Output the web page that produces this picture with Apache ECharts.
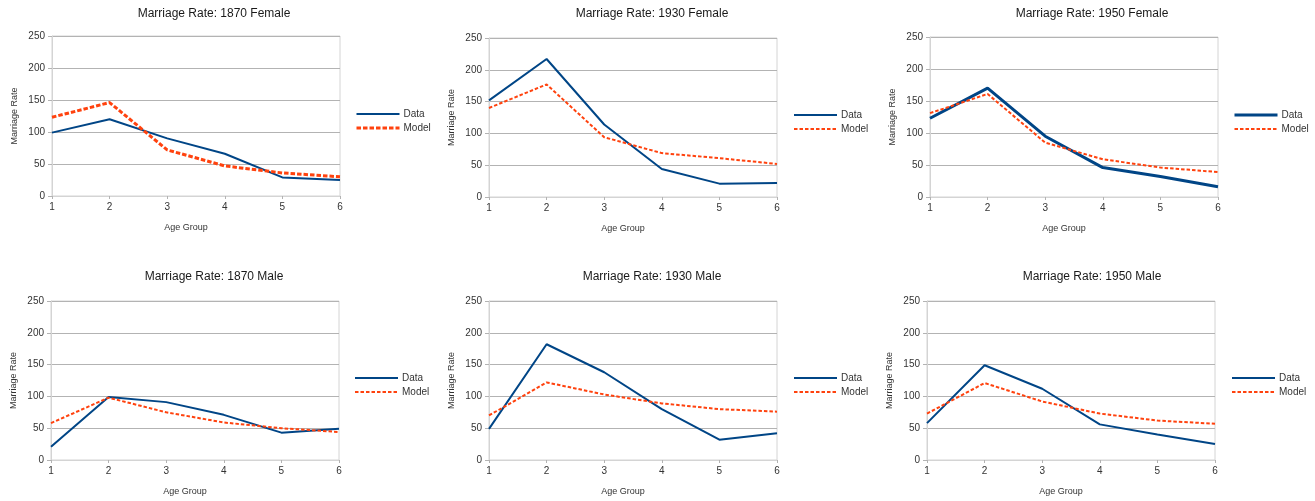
<!DOCTYPE html>
<html>
<head>
<meta charset="utf-8">
<script src="https://cdn.jsdelivr.net/npm/echarts@6/dist/echarts.min.js"></script>
<style>html,body{margin:0;padding:0;background:#fff}#c{width:1315px;height:501px}</style>
</head>
<body>
<div id="c"></div>
<script>
const ageGroups = ['1','2','3','4','5','6'];
const yTicks = [0, 50, 100, 150, 200, 250];
const panelTitles = ['Marriage Rate: 1870 Female','Marriage Rate: 1930 Female','Marriage Rate: 1950 Female',
                     'Marriage Rate: 1870 Male','Marriage Rate: 1930 Male','Marriage Rate: 1950 Male'];
const data1870F  = [99, 120, 90, 66, 29, 25];
const model1870F = [123, 146, 72, 47, 36, 30];
const data1930F  = [152, 217, 114, 44, 21, 22];
const model1930F = [140, 177, 94, 69, 61, 52];
const data1950F  = [123, 170, 95, 46, 32, 16];
const model1950F = [131, 161, 85, 59, 46, 39];
const data1870M  = [21, 99, 91, 71, 43, 49];
const model1870M = [58, 98, 75, 59, 50, 44];
const data1930M  = [49, 182, 138, 80, 32, 42];
const model1930M = [70, 122, 103, 89, 80, 76];
const data1950M  = [58, 149, 112, 56, 40, 25];
const model1950M = [73, 121, 92, 73, 62, 57];

const dataSets = [data1870F, data1930F, data1950F, data1870M, data1930M, data1950M];
const modelSets = [model1870F, model1930F, model1950F, model1870M, model1930M, model1950M];

const FONT = '"Liberation Sans", Arial, sans-serif';
const BLUE = '#004586', ORANGE = '#ff420e';
const grids = [
  {left: 52, top: 36, width: 288, height: 160},
  {left: 489, top: 38, width: 288, height: 159},
  {left: 930, top: 37, width: 288, height: 160},
  {left: 51, top: 301, width: 288, height: 159},
  {left: 489, top: 301, width: 288, height: 159},
  {left: 927, top: 301, width: 288, height: 159}
];
const titleCenters = [[214, 8], [652, 8], [1092, 8], [214, 271], [652, 271], [1092, 271]];
const legendPos = [[355, 109], [793, 110], [1233, 110], [354, 373], [793, 373], [1231, 373]];
const dataWidth = [2, 2, 3, 2, 2, 2];
const modelStyle = [
  {width: 3, type: [4.5, 2]},
  {width: 2, type: [3.5, 2]},
  {width: 2, type: [3.5, 2]},
  {width: 2, type: [3.5, 2]},
  {width: 2, type: [3.5, 2]},
  {width: 2, type: [3.5, 2]}
];

const option = {
  animation: false,
  backgroundColor: '#fff',
  title: [], legend: [], grid: [], xAxis: [], yAxis: [], series: []
};

grids.forEach((g, i) => {
  option.title.push({
    text: panelTitles[i], left: titleCenters[i][0], top: titleCenters[i][1], textAlign: 'center', padding: 0,
    textStyle: {fontFamily: FONT, fontSize: 12, fontWeight: 'normal', color: '#1a1a1a'}
  });
  option.grid.push(Object.assign({show: true, borderColor: '#d4d4d4', borderWidth: 1, backgroundColor: 'transparent'}, g));
  option.xAxis.push({
    type: 'category', gridIndex: i, data: ageGroups, boundaryGap: false,
    name: 'Age Group', nameLocation: 'middle', nameGap: 27,
    nameTextStyle: {fontFamily: FONT, fontSize: 9, color: '#333', padding: [0, 20, 0, 0]},
    axisLine: {lineStyle: {color: '#d4d4d4', width: 1}},
    axisTick: {show: true, length: 3, alignWithLabel: true, lineStyle: {color: '#b3b3b3'}},
    axisLabel: {fontFamily: FONT, fontSize: 10, color: '#333', margin: 6},
    splitLine: {show: false}
  });
  option.yAxis.push({
    type: 'value', gridIndex: i, min: 0, max: 250, interval: 50,
    name: 'Marriage Rate', nameLocation: 'middle', nameGap: 33,
    nameTextStyle: {fontFamily: FONT, fontSize: 9, color: '#333'},
    axisLine: {show: true, lineStyle: {color: '#d4d4d4', width: 1}},
    axisTick: {show: true, length: 4, lineStyle: {color: '#b3b3b3'}},
    axisLabel: {fontFamily: FONT, fontSize: 10, color: '#333', margin: 7},
    splitLine: {show: true, lineStyle: {color: '#b3b3b3', width: 1}}
  });
  option.series.push({
    name: 'Data', type: 'line', xAxisIndex: i, yAxisIndex: i, data: dataSets[i],
    symbol: 'none', lineStyle: {color: BLUE, width: dataWidth[i]}, itemStyle: {color: BLUE}
  });
  option.series.push({
    name: 'Model', type: 'line', xAxisIndex: i, yAxisIndex: i, data: modelSets[i],
    symbol: 'none', lineStyle: Object.assign({color: ORANGE}, modelStyle[i]), itemStyle: {color: ORANGE}
  });
  option.legend.push({
    orient: 'vertical', left: legendPos[i][0], top: legendPos[i][1], padding: 0,
    itemWidth: 43, itemHeight: 10, itemGap: 4, selectedMode: false,
    textStyle: {fontFamily: FONT, fontSize: 10, color: '#333', padding: [0, 0, 0, -1]},
    itemStyle: {opacity: 0, color: 'rgba(0,0,0,0)', borderWidth: 0},
    data: [
      {name: 'Data', lineStyle: {color: BLUE, width: dataWidth[i], type: 'solid'}},
      {name: 'Model', lineStyle: Object.assign({color: ORANGE}, modelStyle[i])}
    ]
  });
});

const chart = echarts.init(document.getElementById('c'), null, {renderer: 'canvas'});
chart.setOption(option);
</script>
</body>
</html>
